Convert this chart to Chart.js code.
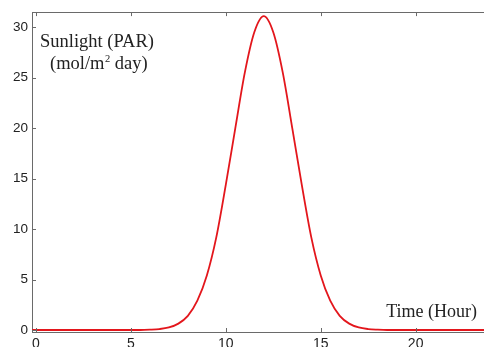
<!DOCTYPE html>
<html>
<head>
<meta charset="utf-8">
<script src="https://cdn.jsdelivr.net/npm/chart.js@4/dist/chart.umd.min.js"></script>
<style>
  html, body { margin: 0; padding: 0; background: #fff; overflow: hidden; }
  #wrap { position: relative; width: 484px; height: 347px; }
</style>
</head>
<body>
<div id="wrap"><canvas id="c"></canvas></div>
<script>
// ---- data ----
const hours = [-0.2, 0, 0.5, 1, 1.5, 2, 2.5, 3, 3.5, 4, 4.5, 5, 5.5, 6, 6.5, 7, 7.5, 8, 8.5, 9, 9.5,
  10, 10.5, 11, 11.5, 12, 12.5, 13, 13.5, 14, 14.5, 15, 15.5, 16, 16.5, 17, 17.5, 18, 18.5,
  19, 19.5, 20, 20.5, 21, 21.5, 22, 22.5, 23, 23.5, 24];
const sunlight = [0, 0, 0, 0, 0, 0, 0, 0, 0, 0, 0, 0, 0, 0.03, 0.09, 0.25, 0.63, 1.4, 2.9, 5.4, 9.2,
  14.4, 20.0, 25.5, 29.5, 31.1, 29.5, 25.5, 20.0, 14.4, 9.2, 5.4, 2.9, 1.4, 0.63, 0.25, 0.09, 0.03, 0,
  0, 0, 0, 0, 0, 0, 0, 0, 0, 0, 0];
const xTicks = [0, 5, 10, 15, 20];
const yTicks = [0, 5, 10, 15, 20, 25, 30];
const yLabel = ['Sunlight (PAR)', '(mol/m', '2', ' day)'];
const xLabel = 'Time (Hour)';

const AXIS = '#6a6a6a';
const TXT = '#222';
const SERIF = '"Liberation Serif", "Times New Roman", serif';

const decor = {
  id: 'decor',
  afterDraw(chart) {
    const ctx = chart.ctx;
    const a = chart.chartArea;
    const xs = chart.scales.x, ys = chart.scales.y;
    ctx.save();
    ctx.strokeStyle = AXIS;
    ctx.lineWidth = 1;
    // top box line
    ctx.beginPath();
    ctx.moveTo(a.left, Math.round(a.top) + 0.5);
    ctx.lineTo(a.right, Math.round(a.top) + 0.5);
    ctx.stroke();
    // inward ticks
    ctx.beginPath();
    xTicks.forEach(v => {
      const p = Math.round(xs.getPixelForValue(v)) + 0.5;
      ctx.moveTo(p, a.bottom); ctx.lineTo(p, a.bottom - 4);
      ctx.moveTo(p, a.top); ctx.lineTo(p, a.top + 4);
    });
    yTicks.forEach(v => {
      const p = Math.round(ys.getPixelForValue(v)) + 0.5;
      ctx.moveTo(a.left, p); ctx.lineTo(a.left + 4, p);
    });
    ctx.stroke();
    // annotations (serif)
    ctx.fillStyle = TXT;
    ctx.textBaseline = 'alphabetic';
    ctx.textAlign = 'left';
    ctx.font = '18.5px ' + SERIF;
    ctx.fillText(yLabel[0], 40, 47);
    let x = 50;
    ctx.fillText(yLabel[1], x, 69);
    x += ctx.measureText(yLabel[1]).width;
    ctx.font = '10.5px ' + SERIF;
    ctx.fillText(yLabel[2], x + 0.5, 62);
    x += ctx.measureText(yLabel[2]).width + 0.5;
    ctx.font = '18.5px ' + SERIF;
    ctx.fillText(yLabel[3], x, 69);
    ctx.font = '18px ' + SERIF;
    ctx.textAlign = 'right';
    ctx.fillText(xLabel, 477, 317);
    ctx.restore();
  }
};

new Chart(document.getElementById('c'), {
  type: 'line',
  data: {
    datasets: [{
      data: hours.map((h, i) => ({ x: h, y: sunlight[i] })),
      borderColor: '#e3161c',
      borderWidth: 1.8,
      pointRadius: 0,
      fill: false,
      cubicInterpolationMode: 'monotone'
    }]
  },
  options: {
    responsive: true,
    maintainAspectRatio: false,
    devicePixelRatio: 1,
    animation: false,
    layout: { padding: { top: 11, right: 0, left: 0, bottom: 0 } },
    plugins: { legend: { display: false }, tooltip: { enabled: false } },
    scales: {
      x: {
        type: 'linear',
        min: -0.21,
        max: 23.6,
        afterBuildTicks: s => { s.ticks = xTicks.map(v => ({ value: v })); },
        afterFit: s => { s.height = 15; },
        grid: { display: false, drawTicks: false },
        border: { display: true, color: AXIS, width: 1 },
        ticks: { padding: 4, color: TXT, font: { family: 'Arial, "Liberation Sans", sans-serif', size: 14 }, maxRotation: 0, autoSkip: false }
      },
      y: {
        type: 'linear',
        min: -0.2,
        max: 31.5,
        afterBuildTicks: s => { s.ticks = yTicks.map(v => ({ value: v })); },
        afterFit: s => { s.width = 32; },
        grid: { display: false, drawTicks: false },
        border: { display: true, color: AXIS, width: 1 },
        ticks: { padding: 4, color: TXT, font: { family: 'Arial, "Liberation Sans", sans-serif', size: 13.5 } }
      }
    }
  },
  plugins: [decor]
});
</script>
</body>
</html>
